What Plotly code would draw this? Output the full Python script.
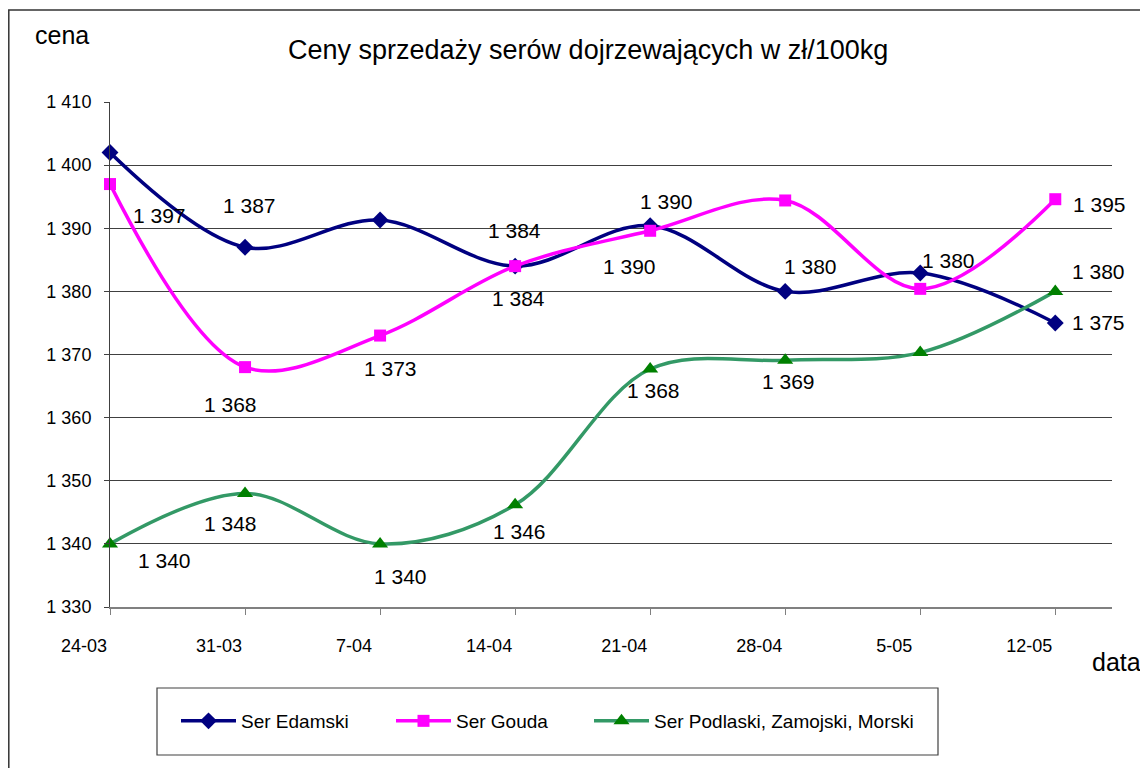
import plotly.graph_objects as go

# ---- data ----
dates = ["24-03", "31-03", "7-04", "14-04", "21-04", "28-04", "5-05", "12-05"]
edamski = [1402, 1387, 1391.3, 1384, 1390.4, 1380, 1382.9, 1375]
gouda = [1397, 1368, 1373, 1384, 1389.6, 1394.4, 1380.4, 1394.6]
podlaski = [1340, 1348, 1340, 1346.2, 1367.7, 1369.1, 1370.3, 1380]

y_ticks = [1330, 1340, 1350, 1360, 1370, 1380, 1390, 1400, 1410]
y_tick_text = ["1 330", "1 340", "1 350", "1 360", "1 370", "1 380", "1 390", "1 400", "1 410"]

series_names = ["Ser Edamski", "Ser Gouda", "Ser Podlaski, Zamojski, Morski"]

# data labels shown: (series index, point index, dx px, dy px)
label_spec = [
    (0, 1, 4, -42), (0, 3, -1, -36), (0, 4, 16, -24), (0, 5, 25, -25), (0, 7, 43, 0),
    (1, 0, 49, 31), (1, 1, -15, 37), (1, 2, 10, 33), (1, 3, 3, 32), (1, 4, -21, 36),
    (1, 6, 28, -28), (1, 7, 44, 5),
    (2, 0, 54, 17), (2, 1, -15, 30), (2, 2, 20, 33), (2, 3, 4, 27), (2, 4, 3, 21),
    (2, 5, 3, 21), (2, 7, 43, -20),
]


def fmt(v):
    return f"{round(v):,}".replace(",", " ")


x_idx = list(range(len(dates)))
all_series = [edamski, gouda, podlaski]
line_colors = ["#000080", "#FF00FF", "#339966"]
marker_colors = ["#000080", "#FF00FF", "#008000"]
symbols = ["diamond", "square", "triangle-up"]
msizes = [13, 12, 14]
legend_ids = ["legend", "legend2", "legend3"]
legend_line_start = [183, 398, 596]  # page px

OFF = 8  # page body margin
PW, PH = 1148, 768
W, H = PW - OFF, PH - OFF
# plot area in page pixels
PL, PR, PT, PB = 110, 1112, 102, 607
L, R, T, B = PL - OFF, PR - OFF, PT - OFF, PB - OFF


def px_x(p):
    return (p - PL) / (PR - PL)


def px_y(p):
    return (PB - p) / (PB - PT)


fig = go.Figure()
for s, name in enumerate(series_names):
    fig.add_trace(go.Scatter(
        x=x_idx, y=all_series[s], name=name, mode="lines+markers",
        line=dict(color=line_colors[s], width=3.5, shape="spline", smoothing=1),
        marker=dict(symbol=symbols[s], size=msizes[s], color=marker_colors[s]),
        cliponaxis=False, legend=legend_ids[s],
    ))

FONT = "Liberation Sans, Arial"
annotations = []
for s, i, dx, dy in label_spec:
    annotations.append(dict(
        x=x_idx[i], y=all_series[s][i], xref="x", yref="y", text=fmt(all_series[s][i]),
        showarrow=False, xshift=dx, yshift=-dy,
        font=dict(family=FONT, size=21, color="black"),
    ))

annotations += [
    dict(text="Ceny sprzedaży serów dojrzewających w zł/100kg", xref="paper", yref="paper",
         x=px_x(588), y=px_y(50), showarrow=False, xanchor="center", yanchor="middle",
         font=dict(family=FONT, size=27, color="black")),
    dict(text="cena", xref="paper", yref="paper", x=px_x(62), y=px_y(35), showarrow=False,
         xanchor="center", yanchor="middle",
         font=dict(family=FONT, size=25, color="black")),
    dict(text="data", xref="paper", yref="paper", x=px_x(1116), y=px_y(662), showarrow=False,
         xanchor="center", yanchor="middle",
         font=dict(family=FONT, size=25, color="black")),
]

shapes = [
    # legend box
    dict(type="rect", xref="paper", yref="paper", x0=px_x(157), x1=px_x(938), y0=px_y(755), y1=px_y(688),
         line=dict(color="#404040", width=1.2), fillcolor="rgba(0,0,0,0)"),
    # outer chart frame
    dict(type="rect", xref="paper", yref="paper", x0=px_x(8.8), x1=px_x(1170), y0=px_y(790), y1=px_y(10),
         line=dict(color="#333333", width=1.5), fillcolor="rgba(0,0,0,0)", layer="below"),
]

layout_legends = {}
for s, lid in enumerate(legend_ids):
    layout_legends[lid] = dict(
        orientation="h", x=px_x(legend_line_start[s] - 7), y=px_y(721),
        xanchor="left", yanchor="middle", font=dict(size=19, family=FONT, color="black"),
        itemwidth=55, bgcolor="rgba(0,0,0,0)", borderwidth=0,
    )

fig.update_layout(
    width=W, height=H,
    margin=dict(l=L, r=W - R, t=T, b=H - B),
    paper_bgcolor="white", plot_bgcolor="white",
    font=dict(family=FONT, color="black"),
    showlegend=True,
    annotations=annotations,
    shapes=shapes,
    **layout_legends,
)
fig.update_xaxes(
    range=[0, 7.42], tickvals=x_idx, ticktext=dates, showgrid=False, zeroline=False,
    showline=True, linecolor="#808080", linewidth=2,
    ticks="outside", ticklen=6, tickcolor="#808080", tickwidth=1,
    tickfont=dict(size=18), ticklabelshift=-26, ticklabelstandoff=15,
)
fig.update_yaxes(
    range=[1330, 1410], tickvals=y_ticks, ticktext=y_tick_text, showgrid=True,
    gridcolor="#404040", gridwidth=1, zeroline=False,
    showline=True, linecolor="#404040", linewidth=1,
    ticks="outside", ticklen=5, tickcolor="#404040",
    tickfont=dict(size=18), ticklabelstandoff=9,
)

fig.write_html("out.html")
